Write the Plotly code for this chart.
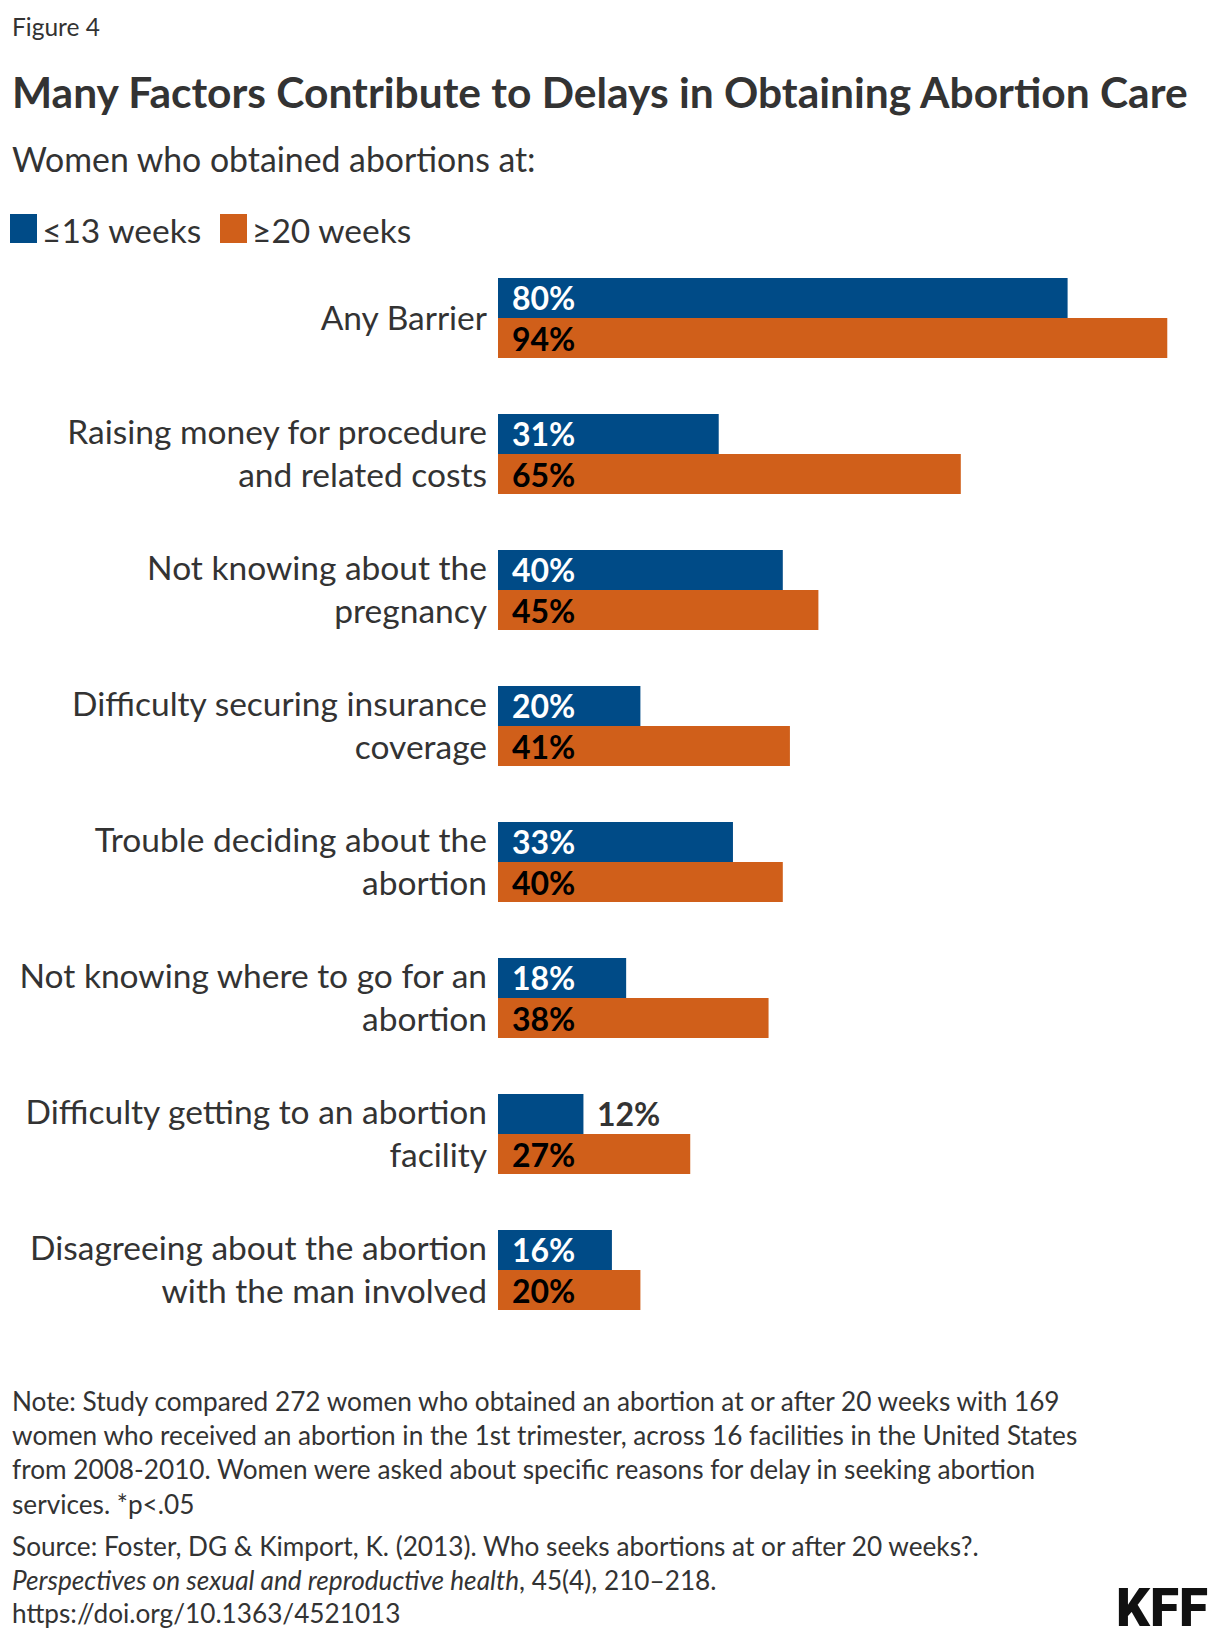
import plotly.graph_objects as go

# ---- data ----
categories = [
    "Any Barrier",
    "Raising money for procedure<br>and related costs",
    "Not knowing about the<br>pregnancy",
    "Difficulty securing insurance<br>coverage",
    "Trouble deciding about the<br>abortion",
    "Not knowing where to go for an<br>abortion",
    "Difficulty getting to an abortion<br>facility",
    "Disagreeing about the abortion<br>with the man involved",
]
series_names = ["≤13 weeks", "≥20 weeks"]
early_values = [80, 31, 40, 20, 33, 18, 12, 16]
late_values = [94, 65, 45, 41, 40, 38, 27, 20]

figure_label = "Figure 4"
title_text = "Many Factors Contribute to Delays in Obtaining Abortion Care"
subtitle_text = "Women who obtained abortions at:"
note_lines = [
    "Note: Study compared 272 women who obtained an abortion at or after 20 weeks with 169",
    "women who received an abortion in the 1st trimester, across 16 facilities in the United States",
    "from 2008-2010. Women were asked about specific reasons for delay in seeking abortion",
    "services. *p<.05",
]
source_lines = [
    "Source: Foster, DG & Kimport, K. (2013). Who seeks abortions at or after 20 weeks?.",
    "<i>Perspectives on sexual and reproductive health</i>, 45(4), 210–218.",
    "https://doi.org/10.1363/4521013",
]

# ---- style ----
BLUE = "#004B87"
ORANGE = "#D05F1A"
DARK = "#333333"
FONT = "Lato"
W, H = 1220, 1640
PL, PR, PT, PB = 498, 1210, 250, 1338
BARGAP = 0.41
LABEL_SIZE = 32


def px2x(px):
    return (px - PL) / (PR - PL)


def py2y(py):
    return (PB - py) / (PB - PT)


fig = go.Figure()
fig.add_trace(go.Bar(
    y=categories, x=early_values, orientation="h", name=series_names[0],
    marker=dict(color=BLUE, line=dict(width=0)), showlegend=False,
))
fig.add_trace(go.Bar(
    y=categories, x=late_values, orientation="h", name=series_names[1],
    marker=dict(color=ORANGE, line=dict(width=0)), showlegend=False,
))

annotations = []
shapes = []

# bar value labels
band_px = (PB - PT) / len(categories)
half_bar = band_px * (1 - BARGAP) / 4
min_inside = 15
for cat, v in zip(categories, early_values):
    inside = v >= min_inside
    annotations.append(dict(
        text=f"{v}%", x=0 if inside else v, y=cat, xref="x", yref="y",
        xanchor="left", yanchor="middle", xshift=12, yshift=half_bar, showarrow=False,
        font=dict(family=FONT, size=LABEL_SIZE, color="white" if inside else DARK, weight="bold")))
for cat, v in zip(categories, late_values):
    annotations.append(dict(
        text=f"{v}%", x=0, y=cat, xref="x", yref="y",
        xanchor="left", yanchor="middle", xshift=12, yshift=-half_bar, showarrow=False,
        font=dict(family=FONT, size=LABEL_SIZE, color="black", weight="bold")))

annotations.append(dict(text=figure_label, x=px2x(10), y=py2y(27), xref="paper", yref="paper",
                        xanchor="left", yanchor="middle", showarrow=False,
                        font=dict(family=FONT, size=24.5, color=DARK)))
annotations.append(dict(text=f"<b>{title_text}</b>", x=px2x(10), y=py2y(92), xref="paper", yref="paper",
                        xanchor="left", yanchor="middle", showarrow=False,
                        font=dict(family=FONT, size=42.5, color=DARK)))
annotations.append(dict(text=subtitle_text, x=px2x(10), y=py2y(159), xref="paper", yref="paper",
                        xanchor="left", yanchor="middle", showarrow=False,
                        font=dict(family=FONT, size=33.8, color=DARK)))

# legend (manual)
leg_x = [10, 220]
for i, (name, col) in enumerate(zip(series_names, [BLUE, ORANGE])):
    x0 = leg_x[i]
    shapes.append(dict(type="rect", xref="paper", yref="paper",
                       x0=px2x(x0), x1=px2x(x0 + 27), y0=py2y(243), y1=py2y(214),
                       fillcolor=col, line=dict(width=0)))
    annotations.append(dict(text=name, x=px2x(x0 + 30), y=py2y(230), xref="paper", yref="paper",
                            xanchor="left", yanchor="middle", showarrow=False,
                            font=dict(family=FONT, size=33.5, color=DARK)))

# notes
for i, line in enumerate(note_lines):
    annotations.append(dict(text=line, x=px2x(10), y=py2y(1401 + i * 34.2), xref="paper", yref="paper",
                            xanchor="left", yanchor="middle", showarrow=False,
                            font=dict(family=FONT, size=26.2, color=DARK)))
for i, line in enumerate(source_lines):
    annotations.append(dict(text=line, x=px2x(10), y=py2y(1546 + i * 33.5), xref="paper", yref="paper",
                            xanchor="left", yanchor="middle", showarrow=False,
                            font=dict(family=FONT, size=26.2, color=DARK)))

annotations.append(dict(text="KFF", x=px2x(1210), y=py2y(1608), xref="paper", yref="paper",
                        xanchor="right", yanchor="middle", showarrow=False,
                        font=dict(family="Roboto", size=53, color="#111111", weight=900)))

fig.update_layout(
    width=W, height=H,
    margin=dict(l=PL, r=W - PR, t=PT, b=H - PB, autoexpand=False),
    paper_bgcolor="white", plot_bgcolor="white",
    barmode="group", bargap=BARGAP, bargroupgap=0,
    font=dict(family=FONT, color=DARK),
    annotations=annotations, shapes=shapes,
    showlegend=False,
)
fig.update_xaxes(range=[0, 100], visible=False, fixedrange=True)
fig.update_yaxes(autorange="reversed", showgrid=False, zeroline=False, showline=False,
                 ticks="", ticklabelstandoff=10,
                 tickfont=dict(family=FONT, size=33.5, color=DARK), fixedrange=True)

fig.write_html("out.html")
